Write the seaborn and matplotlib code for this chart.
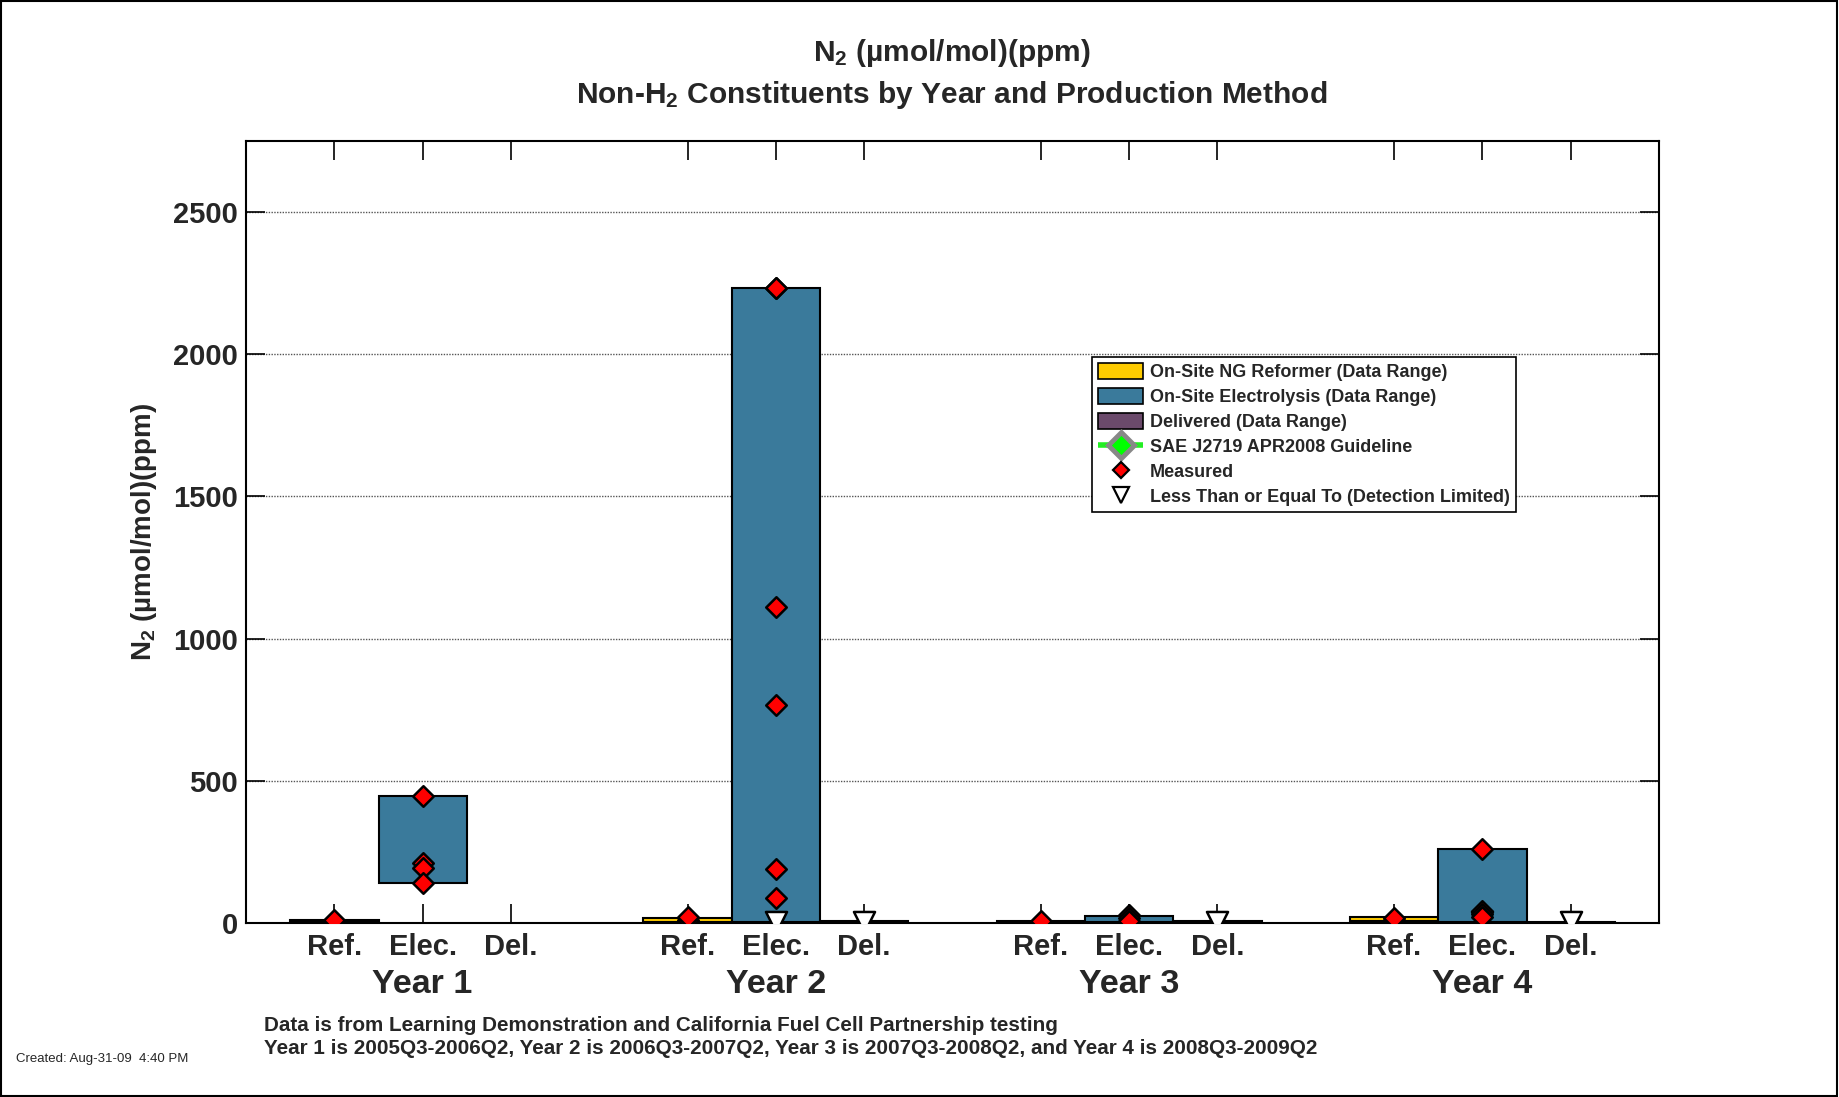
import pandas as pd
import matplotlib
matplotlib.use('Agg')
import matplotlib.pyplot as plt
from matplotlib.patches import Patch, Rectangle
from matplotlib.lines import Line2D
import seaborn as sns
import numpy as np

sns.set_theme(style="white")
plt.rcParams['font.family'] = ['Liberation Sans', 'DejaVu Sans']
plt.rcParams['mathtext.fontset'] = 'custom'
plt.rcParams['mathtext.rm'] = 'Liberation Sans:bold'
plt.rcParams['mathtext.bf'] = 'Liberation Sans:bold'
plt.rcParams['mathtext.it'] = 'Liberation Sans:bold'

# Data
years = ['Year 1', 'Year 2', 'Year 3', 'Year 4']
methods = ['Ref.', 'Elec.', 'Del.']
method_names = ['On-Site NG Reformer (Data Range)', 'On-Site Electrolysis (Data Range)',
                'Delivered (Data Range)']
colors = ['#FFCC00', '#3A7A9B', '#6B4A6B']

# data range (low, high) per year and method; None = no data
range_low = [[4, 140, None], [3, 3, 2], [2, 3, 2], [6, 2, 1]]
range_high = [[12, 448, None], [16, 2232, 8], [8, 24, 8], [20, 260, 5]]

# measured values: (year index, method index, value)
measured_year = [0, 0, 0, 0, 0,
                 1, 1, 1, 1, 1, 1, 1, 1,
                 2, 2, 2, 2,
                 3, 3, 3, 3, 3, 3]
measured_method = [0, 1, 1, 1, 1,
                   0, 0, 1, 1, 1, 1, 1, 1,
                   0, 1, 1, 1,
                   0, 0, 1, 1, 1, 1]
measured_value = [10, 448, 212, 192, 140,
                  10, 20, 2232, 1112, 765, 190, 88,
                  2232,
                  6, 28, 16, 6,
                  10, 17, 260, 42, 30, 22]

# less than or equal to (detection limited)
dl_year = [1, 1, 2, 3, 3]
dl_method = [1, 2, 2, 1, 2]
dl_value = [4, 4, 3, 2, 3]

# positions: each year is a group of 3 slots, groups 4 units apart
def pos(y, m):
    return 4 * y + m + 1

fig = plt.figure(figsize=(18.39, 10.97), dpi=100)
ax = fig.add_axes([0.1338, 0.1586, 0.9021 - 0.1338, 0.8715 - 0.1586])

# grid first so bars sit on top
ax.set_axisbelow(True)
ax.yaxis.grid(True, color='#555555', linestyle=(0, (1, 1)), linewidth=1.0)

for yi in range(len(years)):
    for mi in range(len(methods)):
        lo = range_low[yi][mi]
        hi = range_high[yi][mi]
        if lo is None:
            continue
        ax.bar(pos(yi, mi), hi - lo, bottom=lo, width=1.0, color=colors[mi],
               edgecolor='black', linewidth=1.5, zorder=2)

meas = pd.DataFrame({'x': [pos(y, m) for y, m in zip(measured_year, measured_method)],
                     'value': measured_value})
dl = pd.DataFrame({'x': [pos(y, m) for y, m in zip(dl_year, dl_method)],
                   'value': dl_value})

sns.scatterplot(data=dl, x='x', y='value', marker='v', s=230, color='white',
                edgecolor='black', linewidth=1.8, ax=ax, zorder=3, legend=False)
sns.scatterplot(data=meas, x='x', y='value', marker='D', s=110, color='red',
                edgecolor='black', linewidth=1.8, ax=ax, zorder=4, legend=False)

ax.set_xlim(0, 16)
ax.set_ylim(0, 2750)
ticks = [pos(y, m) for y in range(len(years)) for m in range(len(methods))]
ax.set_xticks(ticks)
ax.set_xticklabels(methods * len(years), fontsize=21, fontweight='bold')
ax.set_yticks([0, 500, 1000, 1500, 2000, 2500])
ax.set_yticklabels(['0', '500', '1000', '1500', '2000', '2500'], fontsize=21, fontweight='bold')
ax.tick_params(axis='both', direction='in', length=14, width=1.2, color='black',
               top=True, right=True, bottom=True, left=True, pad=6)
ax.tick_params(axis='x', pad=7)
ax.set_xlabel('')
ax.set_ylabel(r'N$_{2}$ (µmol/mol)(ppm)', fontsize=20, fontweight='bold', labelpad=10)
for s in ax.spines.values():
    s.set_color('black')
    s.set_linewidth(1.5)

for yi, name in enumerate(years):
    ax.text(pos(yi, 1), -0.078, name, transform=ax.get_xaxis_transform(),
            ha='center', va='center', fontsize=24.5, fontweight='bold')

fig.text(0.5175, 0.952, r'N$_{2}$ (µmol/mol)(ppm)', ha='center', va='center',
         fontsize=21.5, fontweight='bold')
fig.text(0.5175, 0.913, r'Non-H$_{2}$ Constituents by Year and Production Method',
         ha='center', va='center', fontsize=21.5, fontweight='bold')

handles = [Patch(facecolor=colors[0], edgecolor='black', linewidth=1.2),
           Patch(facecolor=colors[1], edgecolor='black', linewidth=1.2),
           Patch(facecolor=colors[2], edgecolor='black', linewidth=1.2),
           (Line2D([], [], color='#22EE22', linestyle='--', linewidth=4),
            Line2D([], [], marker='D', markersize=13, markerfacecolor='#00FF00',
                   markeredgecolor='#888888', markeredgewidth=3.5, linestyle='none')),
           Line2D([], [], marker='D', markersize=8, markerfacecolor='red',
                  markeredgecolor='black', markeredgewidth=1.6, linestyle='none'),
           Line2D([], [], marker='v', markersize=11, markerfacecolor='white',
                  markeredgecolor='black', markeredgewidth=1.6, linestyle='none')]
labels = method_names + ['SAE J2719 APR2008 Guideline', 'Measured',
                         'Less Than or Equal To (Detection Limited)']
leg = ax.legend(handles, labels, loc='upper left', bbox_to_anchor=(0.594, 0.6746),
                bbox_transform=fig.transFigure, prop={'weight': 'bold', 'size': 13},
                frameon=True, fancybox=False, framealpha=1, edgecolor='black',
                borderpad=0.33, labelspacing=0.37, handlelength=2.5, handleheight=1.0,
                handletextpad=0.35, borderaxespad=0)
leg.get_frame().set_linewidth(1.2)

fig.text(0.1436, 0.0655, 'Data is from Learning Demonstration and California Fuel Cell Partnership testing',
         ha='left', va='center', fontsize=14.9, fontweight='bold')
fig.text(0.1436, 0.0445, 'Year 1 is 2005Q3-2006Q2, Year 2 is 2006Q3-2007Q2, Year 3 is 2007Q3-2008Q2, and Year 4 is 2008Q3-2009Q2',
         ha='left', va='center', fontsize=14.9, fontweight='bold')
fig.text(0.0087, 0.0346, 'Created: Aug-31-09  4:40 PM', ha='left', va='center', fontsize=9.5)

fig.patches.append(Rectangle((0.0006, 0.001), 0.9985, 0.998, transform=fig.transFigure,
                             fill=False, edgecolor='black', linewidth=1.5))

fig.savefig('out.png', dpi=100)
